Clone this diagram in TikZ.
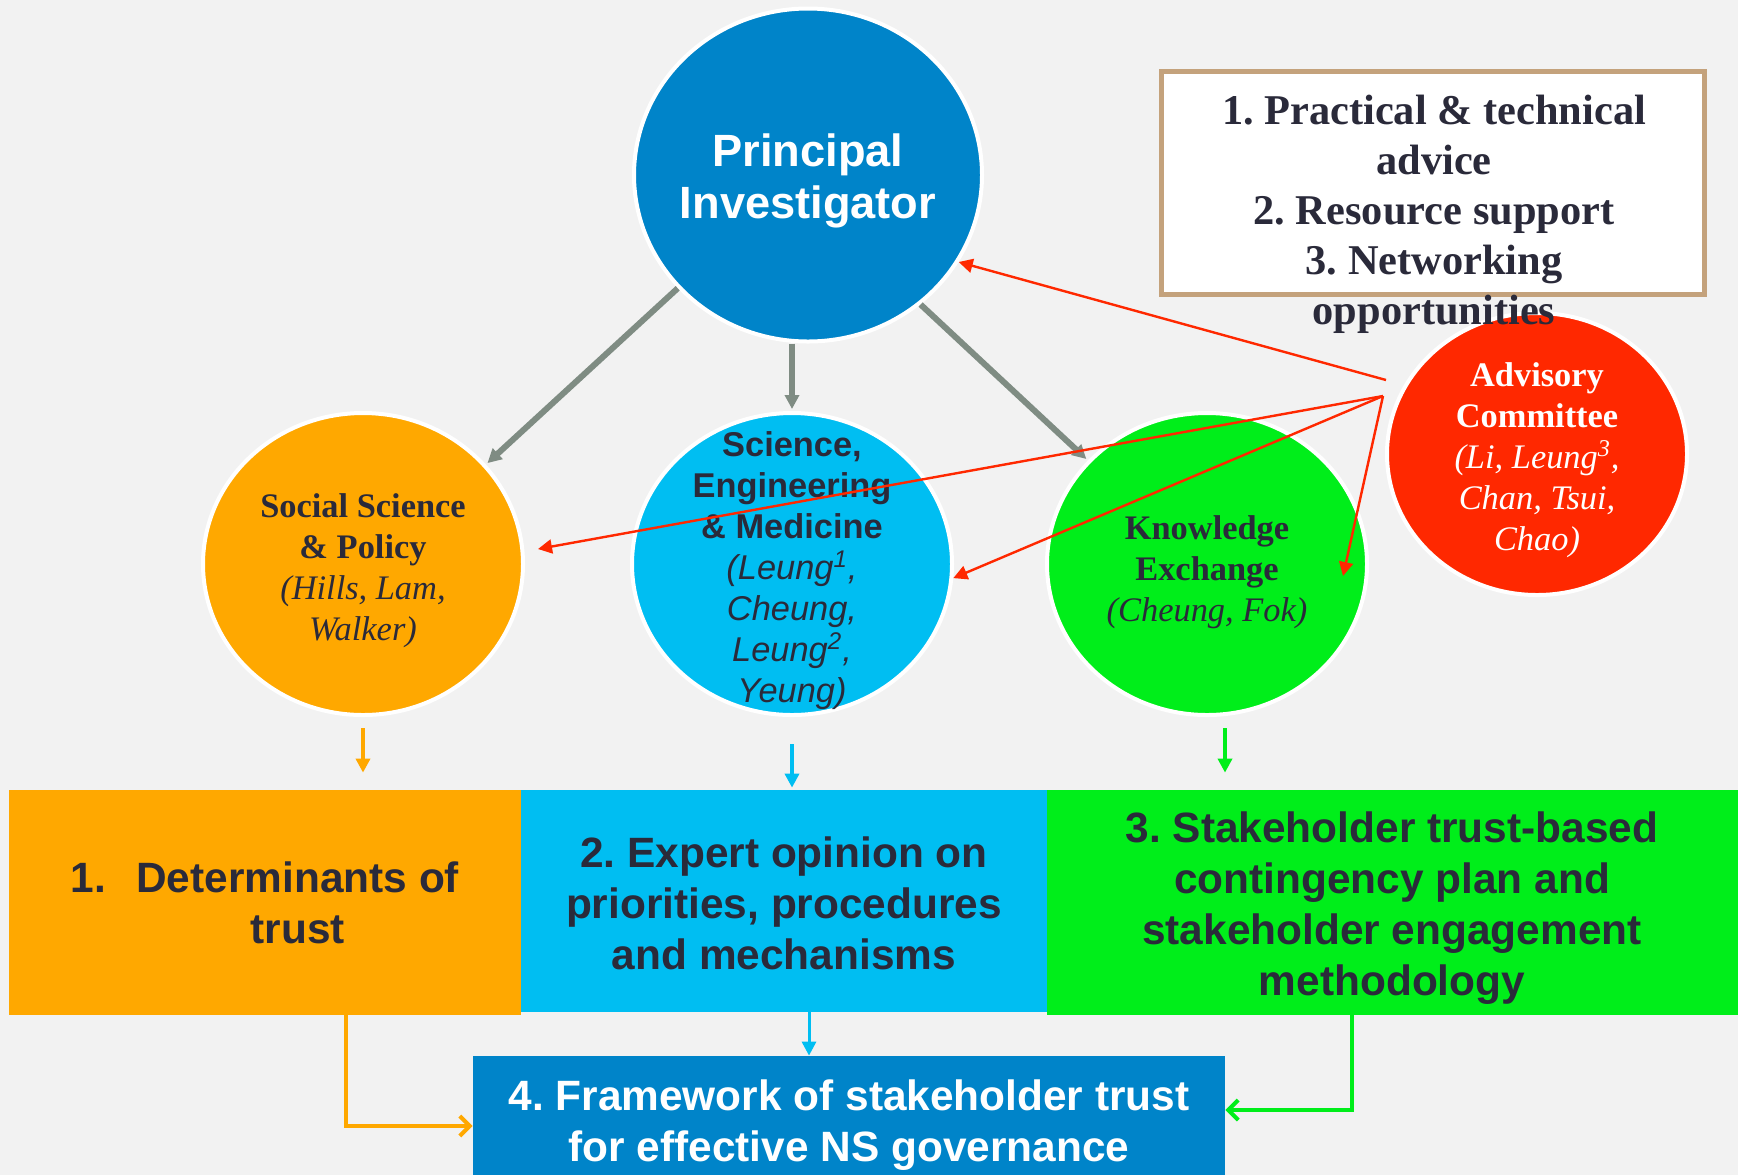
\documentclass[tikz,border=0pt]{standalone}
\usepackage{fontspec}
\setmainfont{Liberation Serif}
\setsansfont{Liberation Sans}
\usetikzlibrary{shapes.geometric,arrows.meta}

\definecolor{bgcol}{RGB}{242,242,242}
\definecolor{txtcol}{RGB}{42,42,58}
\definecolor{piblue}{RGB}{0,132,201}
\definecolor{sorange}{RGB}{255,168,0}
\definecolor{scyan}{RGB}{0,190,242}
\definecolor{kgreen}{RGB}{0,238,26}
\definecolor{advred}{RGB}{255,40,0}
\definecolor{linkgrey}{RGB}{127,140,131}
\definecolor{framebrown}{RGB}{196,162,124}

\newcommand{\teamnames}[1]{\textmd{\itshape #1}}
\frenchspacing

\begin{document}
\begin{tikzpicture}[x=0.5pt, y=-0.5pt, >={Triangle[length=7pt,width=7pt]}]
        \tikzstyle{unit}=[ellipse, draw=white, line width=2pt, inner sep=0pt, minimum width=160pt, minimum height=151pt]
        \tikzstyle{utext}=[align=center, text=txtcol, font=\fontsize{17.2}{20.5}\selectfont\bfseries]
        \tikzstyle{outbox}=[rectangle, inner sep=0pt]
        \tikzstyle{outtext}=[align=center, text=txtcol, font=\fontsize{21.2}{25.5}\selectfont\sffamily\bfseries]
        \tikzstyle{lead}=[draw=linkgrey, line width=3pt, ->, shorten >=1pt]
        \tikzstyle{advise}=[draw=advred, line width=1.2pt, ->]
        \tikzstyle{feed}=[line width=2pt, ->]
        \tikzstyle{merge}=[line width=2pt, -{Straight Barb[length=5pt,width=10pt]}]

        \useasboundingbox (0,0) rectangle (1738,1175);
        \fill[bgcol] (0,0) rectangle (1738,1175);

        % circles
        \node[unit, fill=piblue, minimum width=174pt, minimum height=166.5pt](pi) at (808,175){};
        \node[unit, fill=sorange](social) at (363,564){};
        \node[unit, fill=scyan](sci) at (792,564){};
        \node[unit, fill=kgreen](kex) at (1207,564){};
        \node[unit, fill=advred, minimum width=150pt, minimum height=141pt](adv) at (1537,454){};

        \node[align=center, text=white, font=\fontsize{22.6}{26}\selectfont\sffamily\bfseries](pitxt) at (808,181){Principal\\Investigator};
        \node[utext](socialtxt) at (363,570.5){Social Science\\\& Policy\\\teamnames{(Hills, Lam,}\\\teamnames{Walker)}};
        \node[utext, font=\fontsize{17.2}{20.5}\selectfont\sffamily\bfseries](scitxt) at (792,571){Science,\\Engineering\\\& Medicine\\\teamnames{(Leung\textsuperscript{1},}\\\teamnames{Cheung,}\\\teamnames{Leung\textsuperscript{2},}\\\teamnames{Yeung)}};
        \node[utext](kextxt) at (1207,572.5){Knowledge\\Exchange\\\teamnames{(Cheung, Fok)}};
        \node[utext, text=white](advtxt) at (1537,460.5){Advisory\\Committee\\\teamnames{(Li, Leung\textsuperscript{3},}\\\teamnames{Chan, Tsui,}\\\teamnames{Chao)}};

        % advice box
        \node[draw=framebrown, line width=2.5pt, fill=white, inner sep=0pt, minimum width=271.5pt, minimum height=111.5pt](advice) at (1433,183){};
        \node[align=center, text=txtcol, font=\fontsize{21.2}{25}\selectfont\bfseries](advicetxt) at (1434,214){1. Practical \& technical\\advice\\2. Resource support\\3. Networking\\opportunities};

        % outputs
        \node[outbox, fill=sorange, minimum width=256pt, minimum height=112.5pt](box1) at (265,902.5){};
        \node[outbox, fill=scyan, minimum width=263pt, minimum height=111pt](box2) at (784,901){};
        \node[outbox, fill=kgreen, minimum width=345.5pt, minimum height=112.5pt](box3) at (1392,902.5){};
        \node[outbox, fill=piblue, minimum width=376pt, minimum height=59.5pt](box4) at (849,1115.5){};

        \node[outtext](box1txt) at (265,908){1.\hspace{15pt}\begin{tabular}[t]{@{}c@{}}Determinants of\\trust\end{tabular}};
        \node[outtext](box2txt) at (784,903){2. Expert opinion on\\priorities, procedures\\and mechanisms};
        \node[outtext](box3txt) at (1392,908){3. Stakeholder trust-based\\contingency plan and\\stakeholder engagement\\methodology};
        \node[outtext, text=white](box4txt) at (849,1125.5){4. Framework of stakeholder trust\\for effective NS governance};

        \draw[lead] (pi.221) -- (social.39);
        \draw[lead] (pi.south -| sci.north) -- (sci.north);
        \draw[lead] (pi.-49) -- (kex.139);

        \coordinate (advtop) at (1386,380);
        \coordinate (advfoot) at (1383,396);
        \draw[advise] (advtop) -- (pi.-30);
        \draw[advise] (advfoot) -- ([shift={(175,-15)}]social.center);
        \draw[advise] (advfoot) -- (sci.-5);
        \draw[advise] (advfoot) -- ([shift={(-26,12)}]kex.east);

        \draw[feed, sorange, shorten <=5.5pt, shorten >=8.5pt] (social.south) -- (social.south |- box1.north);
        \draw[feed, scyan, shorten <=13.5pt, shorten >=1pt] (sci.south) -- (sci.south |- box2.north);
        \draw[feed, kgreen, shorten <=5.5pt, shorten >=8.5pt] ([xshift=9pt]kex.south) -- ([xshift=9pt]kex.south |- box3.north);

        \draw[merge, sorange] ([xshift=40.5pt]box1.south) |- ([yshift=-5.25pt]box4.west);
        \draw[->, scyan, line width=1.5pt] ([xshift=12.5pt]box2.south) -- ([xshift=12.5pt]box2.south |- box4.north);
        \draw[merge, kgreen] ([xshift=-20pt]box3.south) |- ([yshift=2.75pt]box4.east);

        \end{tikzpicture}
\end{document}
